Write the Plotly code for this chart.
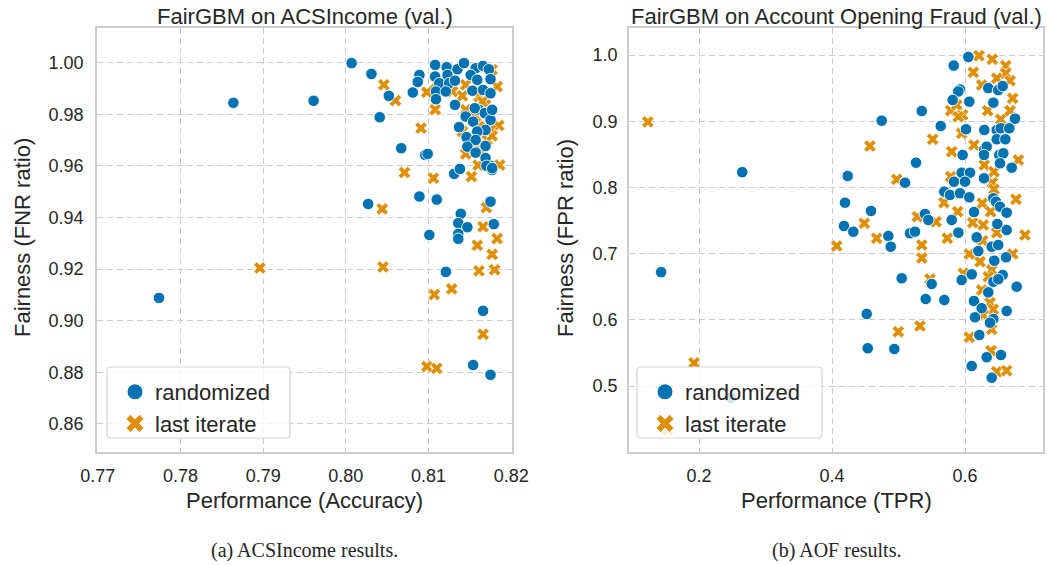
import plotly.graph_objects as go

# ---------------- Data: ACSIncome (left) ----------------
acs_rand_acc = [0.7774, 0.7864, 0.7961, 0.8007, 0.8031, 0.8052, 0.8041, 0.8089, 0.8087, 0.8081,
                0.8067, 0.8096, 0.8099, 0.8131, 0.8138, 0.8177, 0.8175, 0.8089, 0.8110, 0.8175,
                0.8139, 0.8136, 0.8147, 0.8179, 0.8101, 0.8136, 0.8136, 0.8121, 0.8166, 0.8154,
                0.8175, 0.8027, 0.8108, 0.8122, 0.8135, 0.8143, 0.8157, 0.8166, 0.8173, 0.8108,
                0.8123, 0.8151, 0.8159, 0.8175, 0.8113, 0.8125, 0.8132, 0.8109, 0.8121, 0.8153,
                0.8166, 0.8175, 0.8109, 0.8132, 0.8161, 0.8156, 0.8168, 0.8175, 0.8177, 0.8145,
                0.8154, 0.8137, 0.8169, 0.8159, 0.8146, 0.8157, 0.8169, 0.8147, 0.8157, 0.8169,
                0.8170, 0.8177]
acs_rand_fnr = [0.9088, 0.9844, 0.9852, 0.9998, 0.9956, 0.9871, 0.9788, 0.9952, 0.9925, 0.9884,
                0.9668, 0.9642, 0.9646, 0.9569, 0.9588, 0.9584, 0.9600, 0.9481, 0.9469, 0.9461,
                0.9414, 0.9378, 0.9362, 0.9374, 0.9332, 0.9336, 0.9317, 0.9189, 0.9038, 0.8828,
                0.8790, 0.9452, 0.9991, 0.9982, 0.9974, 0.9998, 0.9978, 0.9987, 0.9974, 0.9946,
                0.9952, 0.9952, 0.9933, 0.9936, 0.9920, 0.9920, 0.9930, 0.9888, 0.9888, 0.9891,
                0.9894, 0.9881, 0.9858, 0.9836, 0.9817, 0.9823, 0.9804, 0.9778, 0.9817, 0.9791,
                0.9771, 0.9750, 0.9739, 0.9733, 0.9711, 0.9700, 0.9677, 0.9674, 0.9651, 0.9630,
                0.9600, 0.9591]
acs_last_acc = [0.7896, 0.8044, 0.8045, 0.8046, 0.8060, 0.8098, 0.8108, 0.8091, 0.8071, 0.8106,
                0.8152, 0.8141, 0.8186, 0.8185, 0.8160, 0.8183, 0.8145, 0.8177, 0.8170, 0.8166,
                0.8183, 0.8159, 0.8177, 0.8161, 0.8180, 0.8128, 0.8107, 0.8166, 0.8098, 0.8110,
                0.8109, 0.8129, 0.8161, 0.8169, 0.8145, 0.8161, 0.8175, 0.8141, 0.8155, 0.8171,
                0.8163, 0.8157, 0.8165, 0.8177, 0.8145]
acs_last_fnr = [0.9204, 0.9433, 0.9208, 0.9914, 0.9853, 0.9885, 0.9818, 0.9746, 0.9574, 0.9552,
                0.9558, 0.9871, 0.9603, 0.9756, 0.9603, 0.9907, 0.9914, 0.9972, 0.9438, 0.9364,
                0.9318, 0.9292, 0.9257, 0.9193, 0.9197, 0.9123, 0.9101, 0.8947, 0.8822, 0.8815,
                0.9920, 0.9888, 0.9868, 0.9836, 0.9817, 0.9752, 0.9739, 0.9733, 0.9688, 0.9700,
                0.9655, 0.9791, 0.9849, 0.9716, 0.9646]

# ---------------- Data: Account Opening Fraud (right) ----------------
aof_rand_tpr = [0.143, 0.265, 0.248, 0.605, 0.583, 0.5925, 0.590, 0.5815, 0.6065, 0.635,
                0.650, 0.6567, 0.6426, 0.535, 0.4747, 0.5635, 0.6015, 0.629, 0.6477, 0.6537,
                0.6666, 0.6752, 0.6477, 0.6606, 0.6286, 0.6326, 0.6286, 0.5965, 0.6516, 0.6576,
                0.6526, 0.6702, 0.5263, 0.4236, 0.5098, 0.595, 0.6075, 0.5835, 0.600, 0.6286,
                0.5689, 0.5774, 0.5925, 0.6065, 0.6426, 0.6466, 0.6526, 0.6627, 0.6135, 0.4195,
                0.4586, 0.5398, 0.5448, 0.580, 0.6486, 0.6627, 0.590, 0.418, 0.432, 0.4847,
                0.5173, 0.5248, 0.6176, 0.4883, 0.620, 0.6402, 0.650, 0.6617, 0.644, 0.5048,
                0.5499, 0.595, 0.6101, 0.6567, 0.6426, 0.650, 0.6777, 0.635, 0.5409, 0.5689,
                0.6135, 0.6251, 0.6627, 0.4522, 0.615, 0.6426, 0.6376, 0.6215, 0.4537, 0.4937,
                0.6326, 0.6541, 0.6101, 0.6402]
aof_rand_fpr = [0.672, 0.823, 0.482, 0.997, 0.984, 0.948, 0.945, 0.932, 0.9295, 0.950,
                0.947, 0.953, 0.928, 0.9154, 0.9008, 0.8927, 0.8878, 0.8867, 0.8867, 0.8893,
                0.8893, 0.9038, 0.8727, 0.8727, 0.8565, 0.8615, 0.849, 0.849, 0.849, 0.8515,
                0.8364, 0.8298, 0.8373, 0.8172, 0.8071, 0.8222, 0.8222, 0.8086, 0.8086, 0.8137,
                0.7935, 0.7885, 0.7911, 0.785, 0.7835, 0.7784, 0.7708, 0.7618, 0.7628, 0.7769,
                0.7644, 0.7598, 0.7508, 0.7508, 0.7447, 0.7356, 0.7316, 0.7417, 0.7331, 0.7266,
                0.7307, 0.7331, 0.7246, 0.7104, 0.7039, 0.7104, 0.713, 0.6944, 0.6893, 0.6627,
                0.6541, 0.6601, 0.6687, 0.6677, 0.6575, 0.6612, 0.650, 0.6415, 0.6314, 0.6299,
                0.6284, 0.6174, 0.6133, 0.6088, 0.6038, 0.6012, 0.5956, 0.577, 0.557, 0.5559,
                0.5434, 0.5468, 0.5302, 0.5125]
aof_last_tpr = [0.123, 0.1925, 0.153, 0.621, 0.641, 0.6612, 0.6125, 0.6612, 0.6677, 0.6477,
                0.6251, 0.6717, 0.6341, 0.6537, 0.6677, 0.5785, 0.5965, 0.5875, 0.590, 0.5514,
                0.4571, 0.580, 0.6135, 0.595, 0.629, 0.6436, 0.6802, 0.4973, 0.5785, 0.641,
                0.6436, 0.6767, 0.626, 0.5684, 0.589, 0.6386, 0.5283, 0.5564, 0.4486, 0.6116,
                0.6275, 0.6902, 0.6477, 0.4672, 0.5734, 0.4071, 0.535, 0.535, 0.6065, 0.6266,
                0.6717, 0.6226, 0.6402, 0.5474, 0.5974, 0.635, 0.6251, 0.6376, 0.6426, 0.6275,
                0.4997, 0.5323, 0.6065, 0.6402, 0.6391, 0.6477, 0.6627]
aof_last_fpr = [0.899, 0.535, 0.434, 0.999, 0.9935, 0.9838, 0.9739, 0.9724, 0.9612, 0.9648,
                0.9547, 0.9346, 0.9159, 0.9029, 0.9159, 0.9159, 0.9094, 0.9245, 0.9068, 0.8727,
                0.8625, 0.8539, 0.864, 0.8817, 0.8338, 0.8237, 0.8414, 0.8122, 0.8162, 0.8071,
                0.7971, 0.782, 0.776, 0.7769, 0.7633, 0.7633, 0.7557, 0.7482, 0.7458, 0.7467,
                0.7432, 0.7281, 0.7316, 0.7231, 0.7231, 0.7115, 0.713, 0.6934, 0.6994, 0.7195,
                0.6994, 0.6878, 0.6752, 0.6616, 0.6702, 0.6651, 0.645, 0.6258, 0.6159, 0.6073,
                0.582, 0.5906, 0.5736, 0.5856, 0.5533, 0.5216, 0.5231]

acs_x_ticks = [0.77, 0.78, 0.79, 0.80, 0.81, 0.82]
acs_y_ticks = [0.86, 0.88, 0.90, 0.92, 0.94, 0.96, 0.98, 1.00]
aof_x_ticks = [0.2, 0.4, 0.6]
aof_y_ticks = [0.5, 0.6, 0.7, 0.8, 0.9, 1.0]

series_names = ["randomized", "last iterate"]

# ---------------- Style ----------------
W, H = 1047, 565
BLUE = "#0173b2"
ORANGE = "#de8f05"
GRID = "#cccccc"
TXT = "#262626"
SANS = "Liberation Sans, Arial, sans-serif"
SERIF = "Liberation Serif, Times New Roman, serif"

def px_x(p):
    return p / W

def px_y(p):
    return 1 - p / H

fig = go.Figure()

def add_panel(xa, ya, legend, rx, ry, lx, ly):
    fig.add_trace(go.Scatter(
        x=lx, y=ly, mode="markers", xaxis=xa, yaxis=ya, showlegend=False,
        marker=dict(symbol="x", size=11, color=ORANGE, line=dict(color="white", width=0.7))))
    fig.add_trace(go.Scatter(
        x=rx, y=ry, mode="markers", xaxis=xa, yaxis=ya, showlegend=False,
        marker=dict(symbol="circle", size=11.5, color=BLUE, line=dict(color="white", width=0.9))))
    fig.add_trace(go.Scatter(
        x=[None], y=[None], mode="markers", xaxis=xa, yaxis=ya, name=series_names[0],
        legend=legend, legendgroup=legend + "a", showlegend=True,
        marker=dict(symbol="circle", size=16, color=BLUE, line=dict(color="white", width=1))))
    fig.add_trace(go.Scatter(
        x=[None], y=[None], mode="markers", xaxis=xa, yaxis=ya, name=series_names[1],
        legend=legend, legendgroup=legend + "b", showlegend=True,
        marker=dict(symbol="x", size=16, color=ORANGE, line=dict(color="white", width=1))))

add_panel("x", "y", "legend", acs_rand_acc, acs_rand_fnr, acs_last_acc, acs_last_fnr)
add_panel("x2", "y2", "legend2", aof_rand_tpr, aof_rand_fpr, aof_last_tpr, aof_last_fpr)

axis_common = dict(
    showgrid=True, gridcolor=GRID, gridwidth=1.3, griddash="6px,4px",
    showline=True, linecolor=GRID, linewidth=1.8, mirror=True,
    zeroline=False, ticks="", automargin=False,
    tickfont=dict(family=SANS, size=18, color=TXT),
)

LX0, LX1 = 97, 512
RX0, RX1 = 629, 1043
TOP, BOT = 28, 452

fig.update_layout(
    width=W, height=H,
    margin=dict(l=0, r=0, t=0, b=0, pad=0, autoexpand=False),
    paper_bgcolor="white", plot_bgcolor="white",
    xaxis=dict(domain=[px_x(LX0), px_x(LX1)], range=[0.7699, 0.8201], anchor="y",
               tickvals=acs_x_ticks, tickformat=".2f", ticklabelstandoff=6, **axis_common),
    yaxis=dict(domain=[px_y(BOT), px_y(TOP)], range=[0.8491, 1.0134], anchor="x",
               tickvals=acs_y_ticks, tickformat=".2f", ticklabelstandoff=8, **axis_common),
    xaxis2=dict(domain=[px_x(RX0), px_x(RX1)], range=[0.0947, 0.7173], anchor="y2",
                tickvals=aof_x_ticks, tickformat=".1f", ticklabelstandoff=6, **axis_common),
    yaxis2=dict(domain=[px_y(BOT), px_y(TOP)], range=[0.4003, 1.0408], anchor="x2",
                tickvals=aof_y_ticks, tickformat=".1f", ticklabelstandoff=6, **axis_common),
    showlegend=True,
    legend=dict(x=px_x(115), y=px_y(371), xanchor="left", yanchor="top",
                bgcolor="rgba(0,0,0,0)", borderwidth=0, itemsizing="trace",
                tracegroupgap=0, traceorder="grouped",
                font=dict(family=SANS, size=22, color=TXT)),
    legend2=dict(x=px_x(645), y=px_y(371), xanchor="left", yanchor="top",
                 bgcolor="rgba(0,0,0,0)", borderwidth=0, itemsizing="trace",
                 tracegroupgap=0, traceorder="grouped",
                 font=dict(family=SANS, size=22, color=TXT)),
)

def rounded_box(x0, y0, x1, y1, r=4):
    rx, ry = r / W, r / H
    X0, X1 = px_x(x0), px_x(x1)
    Y0, Y1 = px_y(y0), px_y(y1)
    return (f"M {X0+rx},{Y0} L {X1-rx},{Y0} Q {X1},{Y0} {X1},{Y0-ry} "
            f"L {X1},{Y1+ry} Q {X1},{Y1} {X1-rx},{Y1} L {X0+rx},{Y1} "
            f"Q {X0},{Y1} {X0},{Y1+ry} L {X0},{Y0-ry} Q {X0},{Y0} {X0+rx},{Y0} Z")

for bx0, bx1 in [(107, 290), (637, 822)]:
    fig.add_shape(type="path", path=rounded_box(bx0, 367, bx1, 438), xref="paper", yref="paper",
                  fillcolor="rgba(255,255,255,0.8)", line=dict(color="#d6d6d6", width=1.2),
                  layer="above")

ann = []
def text(x, y, s, size, family=SANS, angle=0):
    ann.append(dict(x=px_x(x), y=px_y(y), xref="paper", yref="paper", text=s, showarrow=False,
                    xanchor="center", yanchor="middle", textangle=angle,
                    font=dict(family=family, size=size, color=TXT)))

text((LX0 + LX1) / 2, 17, "FairGBM on ACSIncome (val.)", 22)
text((RX0 + RX1) / 2, 17, "FairGBM on Account Opening Fraud (val.)", 22)
text((LX0 + LX1) / 2, 500, "Performance (Accuracy)", 22)
text((RX0 + RX1) / 2, 500, "Performance (TPR)", 22)
text(22, 238, "Fairness (FNR ratio)", 22, angle=-90)
text(565, 238, "Fairness (FPR ratio)", 22, angle=-90)
text((LX0 + LX1) / 2, 550, "(a) ACSIncome results.", 20, family=SERIF)
text((RX0 + RX1) / 2, 550, "(b) AOF results.", 20, family=SERIF)
fig.update_layout(annotations=ann)

fig.write_html("out.html")
